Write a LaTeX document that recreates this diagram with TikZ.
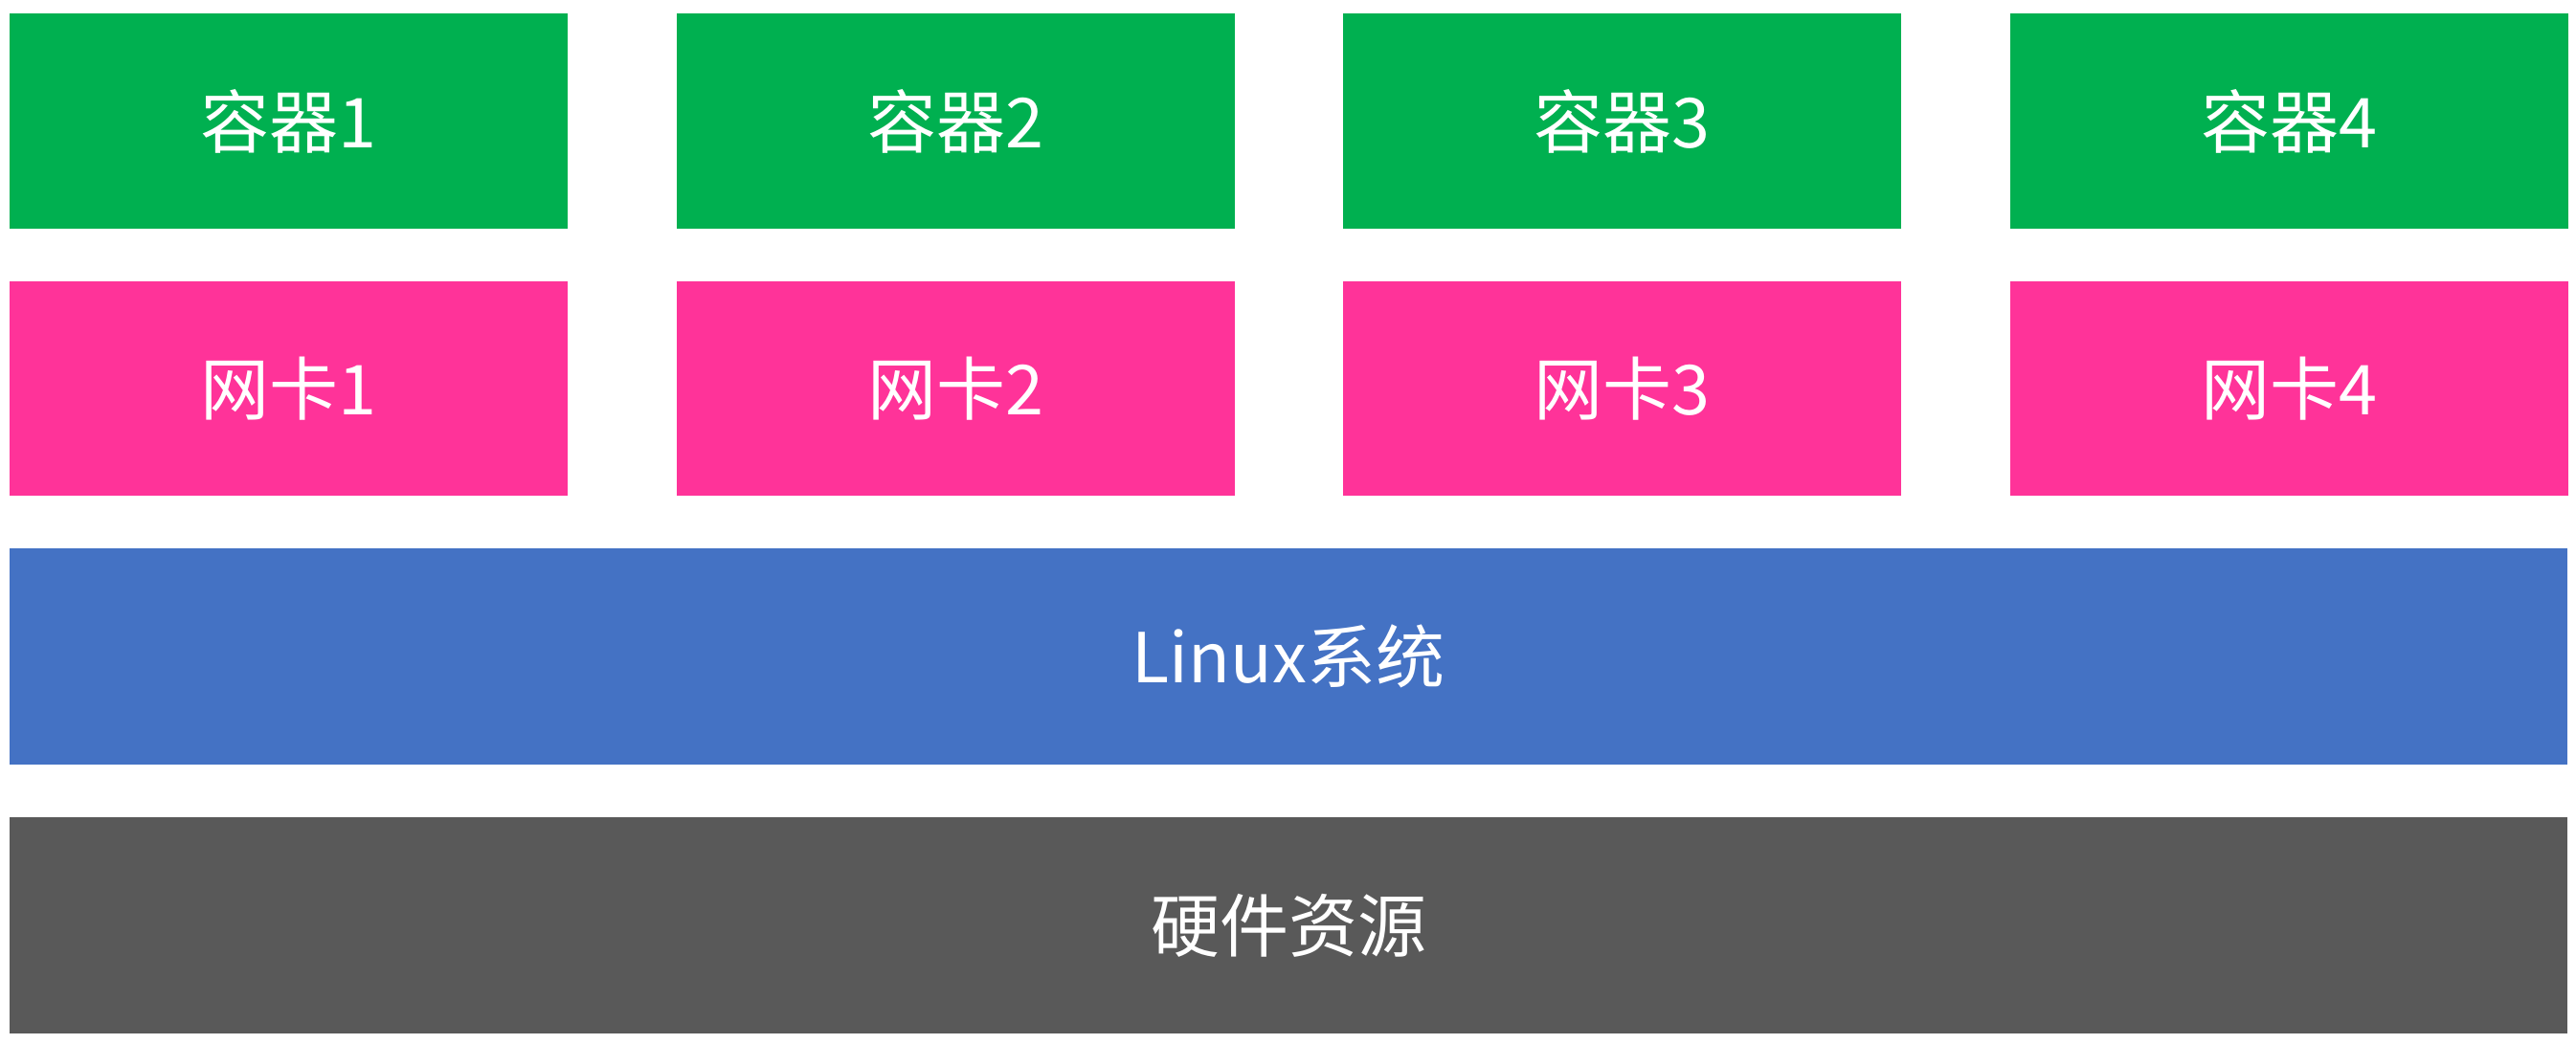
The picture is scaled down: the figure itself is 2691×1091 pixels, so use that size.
\documentclass[tikz,border=0pt]{standalone}
\usepackage{fontspec}
\setmainfont{Noto Sans CJK SC}
\begin{document}
\begin{tikzpicture}[x=0.5pt,y=-0.5pt,
  blk/.style={inner sep=0pt, outer sep=0pt, text=white, font=\fontsize{36}{43}\selectfont},
  ctr/.style={blk, fill={rgb,255:red,0;green,176;blue,80}},
  nic/.style={blk, fill={rgb,255:red,255;green,51;blue,153}},
  os/.style={blk, fill={rgb,255:red,68;green,114;blue,196}},
  hw/.style={blk, fill={rgb,255:red,89;green,89;blue,89}}]
\useasboundingbox (0,0) rectangle (2691,1091);
\foreach \i in {1,2,3,4}{
  \pgfmathsetmacro{\xl}{10+(\i-1)*696.5}
  \pgfmathsetmacro{\xr}{\xl+583}
  \path[ctr] (\xl,14) rectangle (\xr,239);
  \node[blk] (c\i) at ({(\xl+\xr)/2},126.5) {容器\i};
  \path[nic] (\xl,294) rectangle (\xr,518);
  \node[blk] (n\i) at ({(\xl+\xr)/2},406) {网卡\i};
}
\path[os] (10,573) rectangle (2682,799);
\node[blk] (linux) at (1346,686) {Linux系统};
\path[hw] (10,854) rectangle (2682,1080);
\node[blk] (hwres) at (1346,967) {硬件资源};
\end{tikzpicture}
\end{document}
